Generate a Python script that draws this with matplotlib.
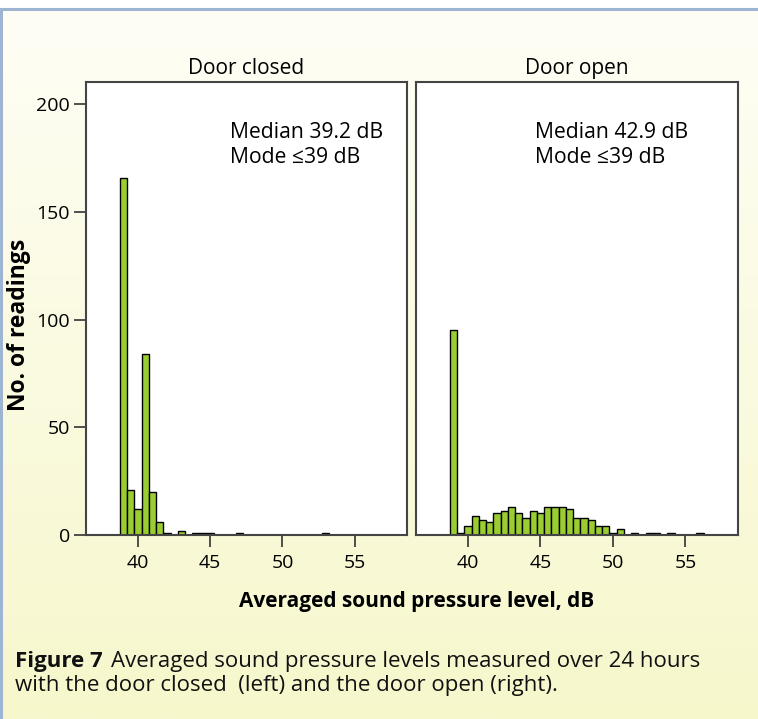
import numpy as np
import matplotlib
matplotlib.use("Agg")
import matplotlib.pyplot as plt
from matplotlib.lines import Line2D

plt.rcParams['font.family'] = ['Open Sans', 'DejaVu Sans']

# histogram data, bin width 0.5 dB
closed_centers = [39, 39.5, 40, 40.5, 41, 41.5, 42, 43, 44, 44.5, 45, 47, 53]
closed_counts = [166, 21, 12, 84, 20, 6, 1, 2, 1, 1, 1, 1, 1]

open_centers = [39, 39.5, 40, 40.5, 41, 41.5, 42, 42.5, 43, 43.5, 44, 44.5, 45,
                45.5, 46, 46.5, 47, 47.5, 48, 48.5, 49, 49.5, 50, 50.5,
                51.5, 52.5, 53, 54, 56]
open_counts = [95, 1, 4, 9, 7, 6, 10, 11, 13, 10, 8, 11, 10,
               13, 13, 13, 12, 8, 8, 7, 4, 4, 1, 3,
               1, 1, 1, 1, 1]

panel_titles = ["Door closed", "Door open"]
notes = ["Median 39.2 dB\nMode \u226439 dB", "Median 42.9 dB\nMode \u226439 dB"]
xticks = [40, 45, 50, 55]
yticks = [0, 50, 100, 150, 200]

W, H = 758, 719
fig = plt.figure(figsize=(W / 100, H / 100), dpi=100)

# background with a light vertical gradient
bg = fig.add_axes([0, 0, 1, 1], zorder=-10)
top_c = np.array([254, 254, 246]) / 255
bot_c = np.array([247, 247, 204]) / 255
t = np.linspace(0, 1, 256)[:, None, None]
grad = top_c * (1 - t) + bot_c * t
grad = np.repeat(grad, 2, axis=1)
bg.imshow(grad, extent=[0, 1, 0, 1], aspect='auto', origin='upper')
bg.axhspan(1 - 8 / H, 1, color='white')
bg.set_xlim(0, 1)
bg.set_ylim(0, 1)
bg.axis('off')
fig.add_artist(Line2D([0, 1], [1 - 9 / H, 1 - 9 / H], color='#9db5d3', lw=2.2))
fig.add_artist(Line2D([1 / W, 1 / W], [0, 1 - 9 / H], color='#9db5d3', lw=2.2))

bottom = (H - 535) / H
height = (535 - 82) / H
ax1 = fig.add_axes([86 / W, bottom, (406.7 - 86) / W, height])
ax2 = fig.add_axes([415.7 / W, bottom, (737.7 - 415.7) / W, height])

for ax, centers, counts, title, note, nx in [
        (ax1, closed_centers, closed_counts, panel_titles[0], notes[0], 46.4),
        (ax2, open_centers, open_counts, panel_titles[1], notes[1], 44.6)]:
    ax.bar(centers, counts, width=0.5, color='#9acd32', edgecolor='black', linewidth=1.0)
    ax.set_xlim(36.4, 58.6)
    ax.set_ylim(0, 210.4)
    ax.set_xticks(xticks)
    ax.set_facecolor('white')
    for s in ax.spines.values():
        s.set_color('#444444')
        s.set_linewidth(1.5)
    ax.tick_params(axis='x', length=8.6, width=1.2, color='#333333', pad=5, labelsize=14)
    ax.set_title(title, fontsize=15, pad=6)
    ax.text(nx, 192, note, fontsize=15.2, va='top', ha='left', linespacing=1.3)

ax1.set_yticks(yticks)
ax1.tick_params(axis='y', length=8.6, width=1.2, color='#333333', pad=3, labelsize=14)
ax1.set_ylabel("No. of readings", fontsize=16.5, fontweight='bold')
ax1.yaxis.set_label_coords(-0.172, 0.4636)
ax2.set_yticks([])

fig.text(417 / W, 1 - 601 / H, "Averaged sound pressure level, dB", ha='center', va='center',
         fontsize=15, fontweight='bold')

fig.text(15 / W, 1 - 662 / H, "Figure 7", ha='left', va='center', fontsize=16,
         fontweight='bold', color='#111111')
fig.text(111 / W, 1 - 662 / H, "Averaged sound pressure levels measured over 24 hours",
         ha='left', va='center', fontsize=16, color='#111111')
fig.text(15 / W, 1 - 685 / H, "with the door closed  (left) and the door open (right).",
         ha='left', va='center', fontsize=16, color='#111111')

fig.savefig("out.png", dpi=100)
